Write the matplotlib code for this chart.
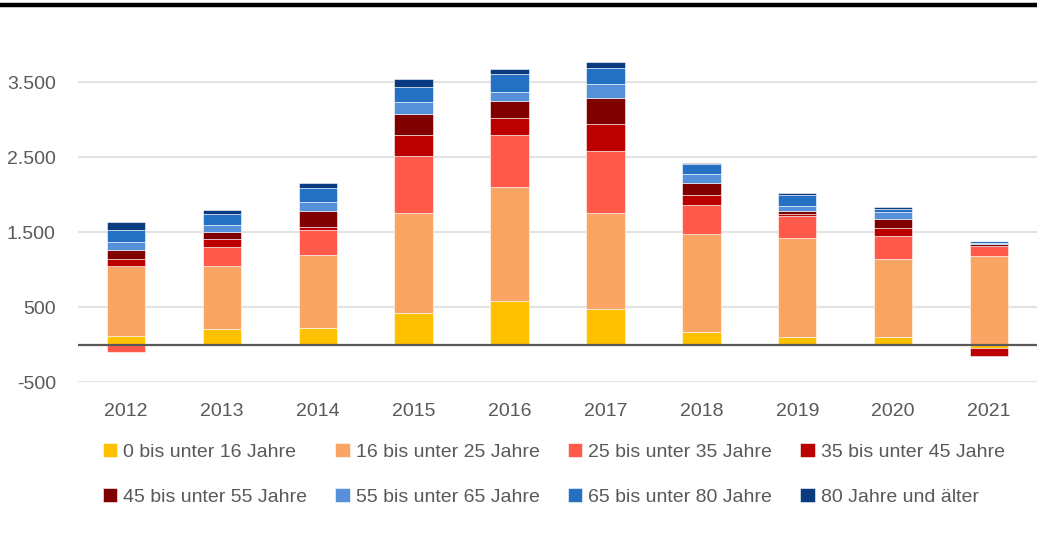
import matplotlib.pyplot as plt
import numpy as np

plt.rcParams['font.family'] = ['Liberation Sans', 'DejaVu Sans']

years = ["2012", "2013", "2014", "2015", "2016", "2017", "2018", "2019", "2020", "2021"]

groups = ["0 bis unter 16 Jahre", "16 bis unter 25 Jahre", "25 bis unter 35 Jahre",
          "35 bis unter 45 Jahre", "45 bis unter 55 Jahre", "55 bis unter 65 Jahre",
          "65 bis unter 80 Jahre", "80 Jahre und älter"]

# values per age group, one entry per year
age_0_16 = [117, 211, 215, 416, 576, 478, 167, 96, 96, -40]
age_16_25 = [934, 836, 983, 1337, 1528, 1279, 1310, 1328, 1044, 1180]
age_25_35 = [-105, 257, 329, 764, 689, 819, 383, 294, 307, 138]
age_35_45 = [89, 98, 35, 280, 231, 360, 129, 22, 111, -110]
age_45_55 = [124, 102, 222, 272, 227, 355, 164, 36, 115, 17]
age_55_65 = [103, 89, 116, 164, 116, 182, 125, 71, 89, 15]
age_65_80 = [160, 143, 182, 200, 240, 214, 129, 151, 49, 26]
age_80 = [111, 53, 76, 103, 66, 76, 17, 26, 27, 9]

series = [age_0_16, age_16_25, age_25_35, age_35_45, age_45_55, age_55_65, age_65_80, age_80]
colors = ["#FFC000", "#FAA564", "#FF5A4A", "#BC0000", "#800000", "#5590D8", "#2470C2", "#0A3A7F"]

txt = "#595959"

fig = plt.figure(figsize=(10.37, 5.34), dpi=100)
ax = fig.add_axes([0.0752, 0.2846, 0.9248, 0.646])

x = np.arange(len(years))
pos_base = np.zeros(len(years))
neg_base = np.zeros(len(years))
handles = []
for vals, col, lab in zip(series, colors, groups):
    v = np.array(vals, dtype=float)
    bottom = np.where(v >= 0, pos_base, neg_base)
    b = ax.bar(x, v, 0.4, bottom=bottom, color=col, edgecolor="#FFFFFF", linewidth=0.4,
               label=lab, zorder=3)
    handles.append(b)
    pos_base = pos_base + np.where(v >= 0, v, 0)
    neg_base = neg_base + np.where(v < 0, v, 0)

ax.set_xlim(-0.5, len(years) - 0.5)
ax.set_ylim(-500, 4100)
ticks = [-500, 500, 1500, 2500, 3500]
ax.set_yticks(ticks)
ax.set_yticklabels([f"{t:,}".replace(",", ".") for t in ticks])
ax.set_xticks(x)
ax.set_xticklabels(years)
ax.grid(axis="y", color="#E3E3E3", linewidth=1.5, zorder=0)
ax.axhline(0, color="#595959", linewidth=1.6, zorder=4)
ax.tick_params(axis="both", length=0, labelsize=14, labelcolor=txt)
ax.tick_params(axis="y", pad=16)
ax.tick_params(axis="x", pad=15)
for s in ax.spines.values():
    s.set_visible(False)

order = [0, 4, 1, 5, 2, 6, 3, 7]
leg = fig.legend([handles[i] for i in order], [groups[i] for i in order], ncol=4,
                 loc="upper left", bbox_to_anchor=(0.099, 0.17), frameon=False,
                 fontsize=14, handlelength=0.75, handleheight=0.75, handletextpad=0.3,
                 columnspacing=1.45, labelspacing=1.38, borderpad=0, borderaxespad=0)
for t in leg.get_texts():
    t.set_color(txt)

# black rule across the top
fig.add_artist(plt.Line2D([0, 1], [0.991, 0.991], color="black", linewidth=3.2,
                          transform=fig.transFigure))

fig.savefig("out.png", dpi=100)
